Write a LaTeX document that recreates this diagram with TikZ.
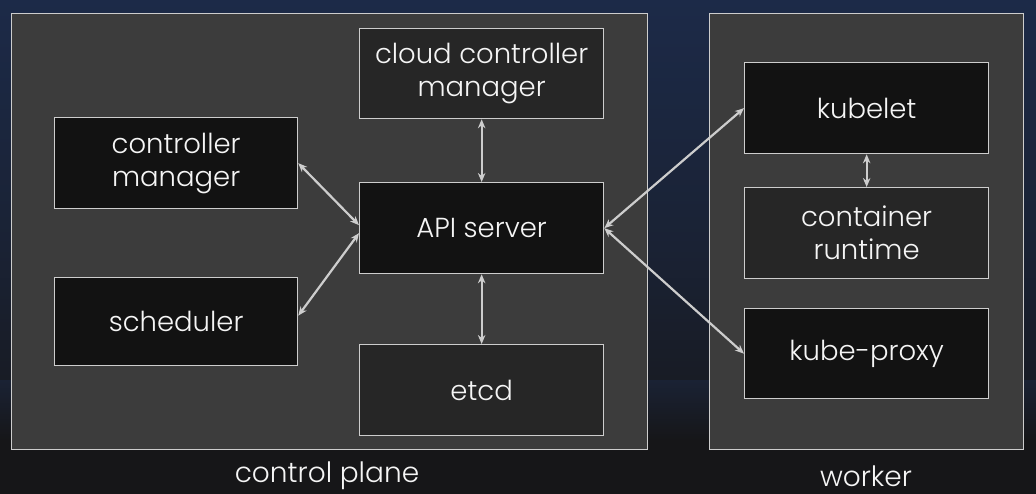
\documentclass[tikz,border=0pt]{standalone}
\usepackage{fontspec}
\setmainfont{Poppins}[UprightFont=* Light]
\usetikzlibrary{arrows.meta}
\definecolor{frameC}{RGB}{60,60,60}
\definecolor{edgeC}{RGB}{205,205,205}
\definecolor{darkbox}{RGB}{18,18,18}
\definecolor{midbox}{RGB}{38,38,38}
\definecolor{navy}{RGB}{28,42,72}
\definecolor{nearblack}{RGB}{22,22,24}
\definecolor{txt}{RGB}{245,245,245}
\tikzset{
  frame/.style={draw=edgeC, line width=1.3pt, fill=frameC},
  compbox/.style={draw=edgeC, line width=1.3pt, anchor=north west, text=txt,
    font=\fontsize{27.5}{33}\selectfont, align=center, inner sep=0pt},
  dark/.style={compbox, fill=darkbox},
  mid/.style={compbox, fill=midbox},
  link/.style={draw=edgeC, line width=2.2pt, {Stealth[length=9pt,width=7.5pt]}-{Stealth[length=9pt,width=7.5pt]}},
  caption/.style={text=txt, font=\fontsize{28}{33}\selectfont}
}
\begin{document}
\begin{tikzpicture}[x=1pt,y=-1pt]
\useasboundingbox (0,0) rectangle (1036,494);
\shade[top color=navy, bottom color=nearblack, middle color={rgb,255:red,26;green,34;blue,52}] (0,0) rectangle (1036,494);
\fill[nearblack] (0,440) rectangle (1036,494);
\shade[top color={rgb,255:red,26;green,34;blue,52}, bottom color=nearblack] (0,380) rectangle (1036,441);
% frames
\node[frame, anchor=north west, minimum width=636pt, minimum height=436pt, inner sep=0pt] (cp) at (11,13) {};
\node[frame, anchor=north west, minimum width=314pt, minimum height=436pt, inner sep=0pt] (wk) at (709,13) {};
% components
\node[mid, minimum width=244pt, minimum height=90pt] (ccm) at (359,28) {cloud controller\\manager};
\node[dark, minimum width=244pt, minimum height=91pt] (api) at (359,182) {API server};
\node[mid, minimum width=244pt, minimum height=91pt] (etcd) at (359,344) {etcd};
\node[dark, minimum width=243pt, minimum height=91pt] (cm) at (54,117) {controller\\manager};
\node[dark, minimum width=243pt, minimum height=88pt] (sch) at (54,277) {scheduler};
\node[dark, minimum width=244pt, minimum height=91pt] (kl) at (744,62) {kubelet};
\node[mid, minimum width=244pt, minimum height=91pt] (cr) at (744,187) {container\\runtime};
\node[dark, minimum width=244pt, minimum height=90pt] (kp) at (744,308) {kube-proxy};
% captions
\node[caption] (cpl) at (327,476) {control plane};
\node[caption] (wkl) at (866,476) {worker};
% connectors
\draw[link] (ccm.south) -- (api.north);
\draw[link] (api.south) -- (etcd.north);
\draw[link] (kl.south) -- (cr.north);
\draw[link] (cm.east) -- ([yshift=3pt]api.west);
\draw[link] ([yshift=6pt]sch.east) -- ([yshift=-5pt]api.west);
\draw[link] (api.east) -- (kl.west);
\draw[link] (api.east) -- (kp.west);
\end{tikzpicture}
\end{document}
